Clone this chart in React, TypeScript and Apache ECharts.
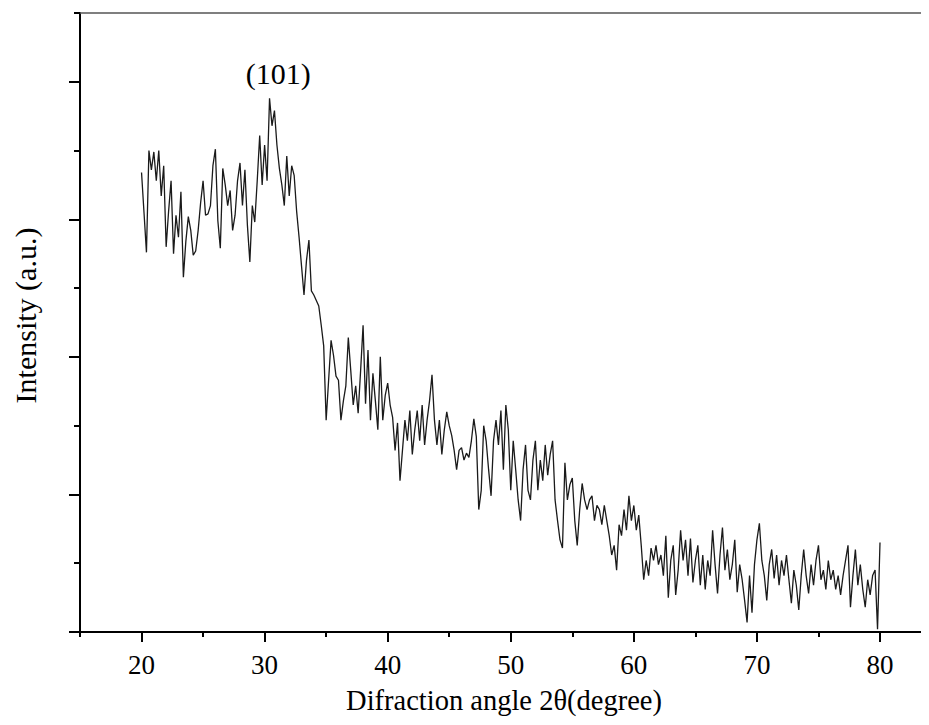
import React, { useEffect, useRef } from "react";
import * as echarts from "echarts";

// XRD scan: 20.0° to 80.0°, step 0.2°
const startAngle = 20;
const stepAngle = 0.2;
const intensities = [
  334, 305, 276, 350, 336,
  349, 328, 350, 317, 339,
  280, 306, 328, 275, 303,
  287, 320, 258, 284, 302,
  292, 274, 277, 292, 312,
  328, 303, 304, 310, 339,
  351, 299, 279, 337, 325,
  310, 321, 292, 303, 328,
  341, 310, 336, 296, 269,
  310, 298, 328, 361, 325,
  354, 328, 388, 368, 379,
  354, 337, 325, 310, 346,
  317, 339, 332, 306, 287,
  266, 245, 270, 285, 248,
  245, 241, 237, 223, 208,
  154, 183, 212, 201, 186,
  183, 154, 168, 179, 214,
  190, 165, 179, 159, 190,
  223, 166, 205, 154, 188,
  168, 147, 200, 154, 172,
  181, 165, 156, 132, 152,
  110, 132, 154, 139, 161,
  129, 147, 161, 139, 165,
  136, 154, 168, 187, 154,
  136, 154, 129, 147, 160,
  150, 143, 132, 118, 132,
  134, 125, 130, 127, 139,
  155, 142, 89, 103, 150,
  139, 118, 99, 139, 154,
  136, 161, 118, 165, 147,
  103, 139, 118, 96, 81,
  118, 136, 103, 96, 125,
  139, 103, 125, 110, 136,
  114, 129, 139, 96, 81,
  67, 61, 123, 96, 107,
  112, 81, 63, 89, 108,
  96, 89, 96, 99, 81,
  92, 89, 78, 92, 81,
  70, 56, 63, 45, 78,
  70, 89, 74, 99, 81,
  92, 74, 85, 63, 38,
  52, 41, 61, 52, 63,
  49, 56, 41, 70, 25,
  52, 63, 27, 45, 74,
  52, 67, 41, 68, 36,
  52, 63, 34, 56, 31,
  52, 41, 74, 49, 28,
  56, 76, 45, 60, 38,
  49, 67, 29, 49, 38,
  23, 7, 41, 14, 49,
  67, 79, 52, 41, 23,
  49, 60, 39, 56, 34,
  52, 41, 56, 38, 21,
  45, 34, 16, 41, 60,
  41, 28, 49, 34, 52,
  63, 38, 45, 31, 52,
  38, 45, 31, 41, 27,
  41, 52, 63, 18, 41,
  60, 34, 49, 31, 18,
  38, 27, 41, 45, 2,
  65,
];

const xMajorTicks = [20, 30, 40, 50, 60, 70, 80];
const xMinorTicks = [15, 25, 35, 45, 55, 65, 75];
const yMajorTicks = [0, 100, 200, 300, 400];
const yMinorTicks = [50, 150, 250, 350, 450];
const xRange = [15, 83.9];
const yRange = [0, 450];
const peakLabel = "(101)";
const peakCoord = [31.1, 388];
const xTitle = "Difraction angle 2θ(degree)";
const yTitle = "Intensity (a.u.)";

export default function App() {
  const ref = useRef<HTMLDivElement>(null);
  useEffect(() => {
    if (!ref.current) return;
    const chart = echarts.init(ref.current, null, { renderer: "svg" });
    const data = intensities.map((v, i) => [
      Math.round((startAngle + i * stepAngle) * 10) / 10,
      v,
    ]);
    const font = "Liberation Serif";
    chart.setOption({
      animation: false,
      grid: { left: 80, top: 13, width: 848, height: 619 },
      xAxis: [
        {
          type: "value",
          position: "bottom",
          min: xRange[0],
          max: xRange[1],
          name: xTitle,
          nameLocation: "middle",
          nameGap: 54,
          nameTextStyle: { fontFamily: font, fontSize: 28.5, color: "#000" },
          axisLine: { show: true, onZero: false, lineStyle: { color: "#000", width: 2 } },
          axisTick: { show: true, customValues: xMajorTicks, length: 10, lineStyle: { color: "#000", width: 2 } },
          axisLabel: { show: true, customValues: xMajorTicks, fontFamily: font, fontSize: 27, color: "#000", margin: 19 },
          splitLine: { show: false },
        },
        {
          type: "value",
          position: "top",
          min: xRange[0],
          max: xRange[1],
          axisLine: { show: true, onZero: false, lineStyle: { color: "#555", width: 1.5 } },
          axisTick: { show: false },
          axisLabel: { show: false },
          splitLine: { show: false },
        },
        {
          type: "value",
          position: "bottom",
          min: xRange[0],
          max: xRange[1],
          axisLine: { show: false, onZero: false },
          axisTick: { show: true, customValues: xMinorTicks, length: 5, lineStyle: { color: "#000", width: 2 } },
          axisLabel: { show: false },
          splitLine: { show: false },
        },
      ],
      yAxis: [
        {
          type: "value",
          position: "left",
          min: yRange[0],
          max: yRange[1],
          name: yTitle,
          nameLocation: "middle",
          nameGap: 40,
          nameTextStyle: { fontFamily: font, fontSize: 30, color: "#000", padding: [0, 0, 0, 14] },
          axisLine: { show: true, onZero: false, lineStyle: { color: "#000", width: 2 } },
          axisTick: { show: true, customValues: yMajorTicks, length: 11, lineStyle: { color: "#000", width: 2 } },
          axisLabel: { show: false },
          splitLine: { show: false },
        },
        {
          type: "value",
          position: "left",
          min: yRange[0],
          max: yRange[1],
          axisLine: { show: false, onZero: false },
          axisTick: { show: true, customValues: yMinorTicks, length: 6, lineStyle: { color: "#000", width: 2 } },
          axisLabel: { show: false },
          splitLine: { show: false },
        },
      ],
      series: [
        {
          type: "line",
          xAxisIndex: 0,
          yAxisIndex: 0,
          data,
          symbol: "none",
          lineStyle: { color: "#1a1a1a", width: 1.3 },
          markPoint: {
            symbolSize: 1,
            itemStyle: { color: "rgba(0,0,0,0)" },
            label: {
              show: true,
              position: "top",
              distance: 9,
              formatter: peakLabel,
              fontFamily: font,
              fontSize: 30,
              color: "#000",
            },
            data: [{ coord: peakCoord }],
          },
        },
      ],
    });
    return () => chart.dispose();
  }, []);
  return <div ref={ref} style={{ width: 929, height: 725, marginLeft: -8, marginTop: -8 }} />;
}
